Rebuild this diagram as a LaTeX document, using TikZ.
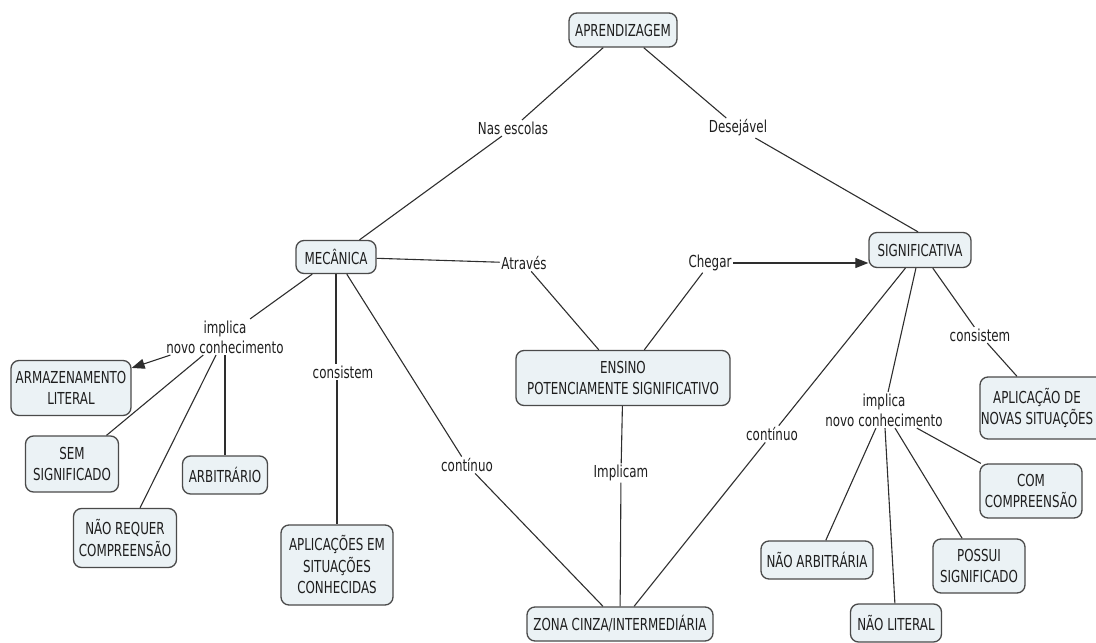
\documentclass[tikz,border=0pt]{standalone}
\usepackage{fontspec}
\setmainfont{DejaVu Sans}[FakeStretch=0.72]
\usetikzlibrary{arrows.meta}
\definecolor{boxfill}{HTML}{EBF2F5}
\definecolor{boxline}{HTML}{4A4A4A}
\definecolor{linkline}{HTML}{2E2E2E}
\definecolor{textcol}{HTML}{1E1E1E}

\begin{document}
\begin{tikzpicture}[x=1pt,y=-1pt,
  concept/.style={draw=boxline, line width=1.3pt, fill=boxfill, rounded corners=8pt,
    align=center, inner sep=2pt, text=textcol, font=\fontsize{16.5}{21.5}\selectfont},
  linkword/.style={align=center, inner sep=1.5pt, text=textcol, font=\fontsize{16.5}{20}\selectfont},
  link/.style={draw=linkline, line width=1.1pt},
  arrowlink/.style={link, -{Triangle[length=13pt,width=10pt]}}
]
\useasboundingbox (0,0) rectangle (1096,643);

% concepts
\node[concept, minimum width=108pt, minimum height=34pt] (apr) at (623,30) {APRENDIZAGEM};
\node[concept, minimum width=80pt, minimum height=33pt] (mec) at (336,257) {MECÂNICA};
\node[concept, minimum width=102pt, minimum height=35pt] (sig) at (920,250) {SIGNIFICATIVA};
\node[concept, minimum width=214pt, minimum height=55pt] (ens) at (623,378) {ENSINO\\POTENCIAMENTE SIGNIFICATIVO};
\node[concept, minimum width=186pt, minimum height=34pt] (zona) at (620,624) {ZONA CINZA/INTERMEDIÁRIA};
\node[concept, minimum width=120pt, minimum height=55pt] (arm) at (71,388) {ARMAZENAMENTO\\LITERAL};
\node[concept, minimum width=93pt, minimum height=56pt] (sem) at (72,464) {SEM\\SIGNIFICADO};
\node[concept, minimum width=85pt, minimum height=38pt] (arb) at (225,475) {ARBITRÁRIO};
\node[concept, minimum width=103pt, minimum height=59pt] (nrq) at (125,538) {NÃO REQUER\\COMPREENSÃO};
\node[concept, minimum width=112pt, minimum height=80pt] (apc) at (337,565) {APLICAÇÕES EM\\SITUAÇÕES\\CONHECIDAS};
\node[concept, minimum width=132pt, minimum height=62pt] (apn) at (1046,408) {};
\node[align=center, text=textcol, font=\fontsize{16.5}{21.5}\selectfont, inner sep=0pt]
  (apnText) at (1037,408) {APLICAÇÃO DE\\NOVAS SITUAÇÕES};
\node[concept, minimum width=102pt, minimum height=54pt] (comc) at (1031,491) {COM\\COMPREENSÃO};
\node[concept, minimum width=92pt, minimum height=54pt] (pos) at (979,566) {POSSUI\\SIGNIFICADO};
\node[concept, minimum width=112pt, minimum height=38pt] (narb) at (817,560) {NÃO ARBITRÁRIA};
\node[concept, minimum width=91pt, minimum height=38pt] (nlit) at (896,623) {NÃO LITERAL};

% linking words
\node[linkword] (lNas) at (513,128) {Nas escolas};
\node[linkword] (lDes) at (738,128) {Desejável};
\node[linkword] (lAtr) at (524,263) {Através};
\node[linkword] (lChe) at (710,263) {Chegar};
\node[linkword] (lImpL) at (225,337) {implica\\novo conhecimento};
\node[linkword] (lConL) at (343,372) {consistem};
\node[linkword] (lContL) at (467,465) {contínuo};
\node[linkword] (lImplicam) at (621,473) {Implicam};
\node[linkword] (lContR) at (772,434) {contínuo};
\node[linkword] (lImpR) at (884,410) {implica\\novo conhecimento};
\node[linkword] (lConR) at (980,335) {consistem};

% links
\draw[link] (apr) -- (lNas) -- (mec);
\draw[link] (apr) -- (lDes) -- ([xshift=-2pt]sig.north);
\draw[link] (mec) -- (lAtr) -- (ens);
\draw[link] (ens) -- (lChe);
\draw[arrowlink] (lChe.east) -- (lChe.east -| sig.west);

\draw[link] (mec) -- (lImpL);
\draw[arrowlink] (lImpL) -- (arm);
\draw[link] (lImpL) -- (sem);
\draw[link] (lImpL) -- (nrq);
\draw[link] (lImpL) -- (arb);

\draw[link] (mec.south) -- (mec.south |- lConL.north);
\draw[link] (apc.north |- lConL.south) -- (apc.north);

\draw[link] (mec) -- (lContL) -- (zona);
\draw[link] (ens) -- (lImplicam) -- (zona);
\draw[link] (sig) -- (lContR) -- (zona);

\draw[link] (sig) -- (lImpR);
\draw[link] (lImpR) -- (narb);
\draw[link] (lImpR) -- (nlit);
\draw[link] (lImpR) -- (pos);
\draw[link] (lImpR) -- (comc);

\draw[link] (sig) -- (lConR) -- ([xshift=-29pt]apn.north);
\end{tikzpicture}
\end{document}
